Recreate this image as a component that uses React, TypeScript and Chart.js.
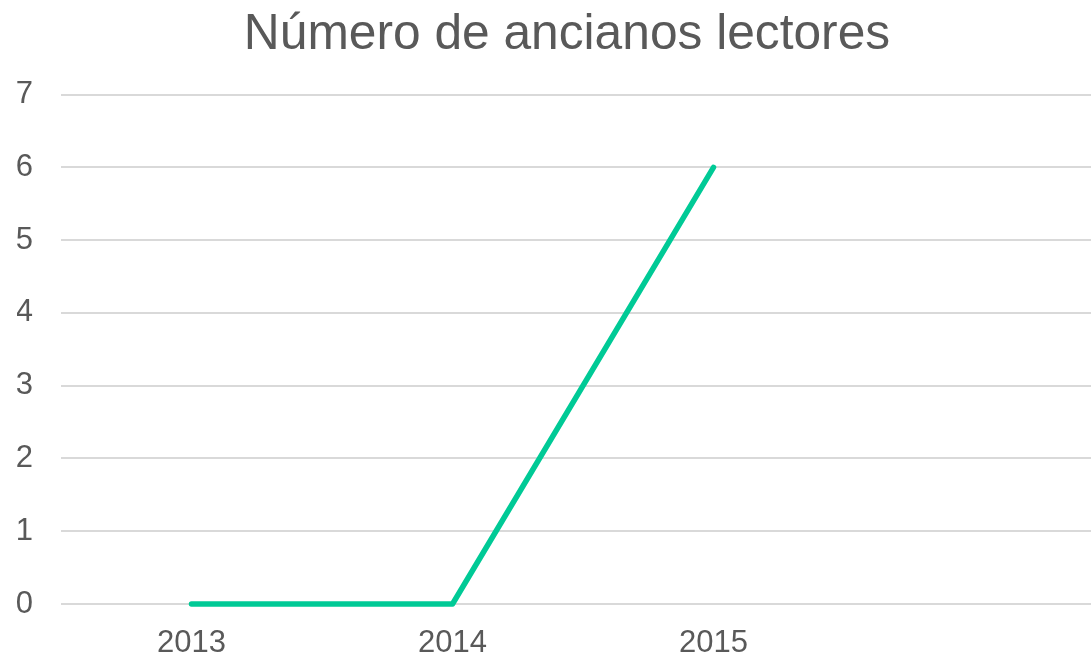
import React, { useEffect, useRef } from "react";
import { Chart, registerables } from "chart.js";

Chart.register(...registerables);

const titleText = "Número de ancianos lectores";
const categories = ["2013", "2014", "2015", ""];
const readers = [0, 0, 6, null];
const yTicks = [0, 1, 2, 3, 4, 5, 6, 7];

export default function App() {
  const ref = useRef<HTMLCanvasElement | null>(null);
  useEffect(() => {
    if (!ref.current) return;
    const font = "'Liberation Sans', Arial, Helvetica, sans-serif";
    const chart = new Chart(ref.current, {
      type: "line",
      data: {
        labels: categories,
        datasets: [
          {
            label: titleText,
            data: readers,
            borderColor: "#00CA96",
            backgroundColor: "#00CA96",
            borderWidth: 5.5,
            pointRadius: 0,
            borderCapStyle: "round",
            borderJoinStyle: "round",
            tension: 0,
            clip: false,
            yAxisID: "y",
          },
        ],
      },
      options: {
        responsive: false,
        animation: false,
        layout: { padding: { left: 17, right: 17, top: 0, bottom: 0 } },
        plugins: {
          legend: { display: false },
          tooltip: { enabled: false },
          title: {
            display: true,
            text: titleText,
            color: "#595959",
            font: { family: font, size: 49.7, weight: "normal" },
            padding: { top: 5, bottom: 30 },
          },
        },
        scales: {
          x: {
            offset: true,
            grid: { display: false, drawTicks: false },
            border: { display: false },
            afterFit: (axis: any) => {
              axis.height = 51;
            },
            ticks: {
              color: "#595959",
              font: { family: font, size: 31 },
              padding: 21,
              maxRotation: 0,
            },
          },
          y: {
            min: 0,
            max: 7,
            afterBuildTicks: (axis: any) => {
              axis.ticks = yTicks.map((v) => ({ value: v }));
            },
            afterFit: (axis: any) => {
              axis.width = 44;
            },
            grid: { color: "#d9d9d9", lineWidth: 2, drawTicks: false },
            border: { display: false },
            ticks: {
              color: "#595959",
              font: { family: font, size: 31 },
              padding: 28,
            },
          },
          spacer: {
            type: "linear",
            position: "right",
            min: 0,
            max: 7,
            grid: { display: false, drawTicks: false },
            border: { display: false },
            ticks: { display: false },
            afterFit: (axis: any) => {
              axis.width = 12;
            },
          },
        },
      },
    });
    return () => chart.destroy();
  }, []);
  return (
    <div
      style={{
        position: "fixed",
        left: 0,
        top: 0,
        width: 1091,
        height: 655,
        overflow: "hidden",
        background: "#fff",
      }}
    >
      <canvas ref={ref} width={1134} height={655} style={{ display: "block" }} />
    </div>
  );
}
